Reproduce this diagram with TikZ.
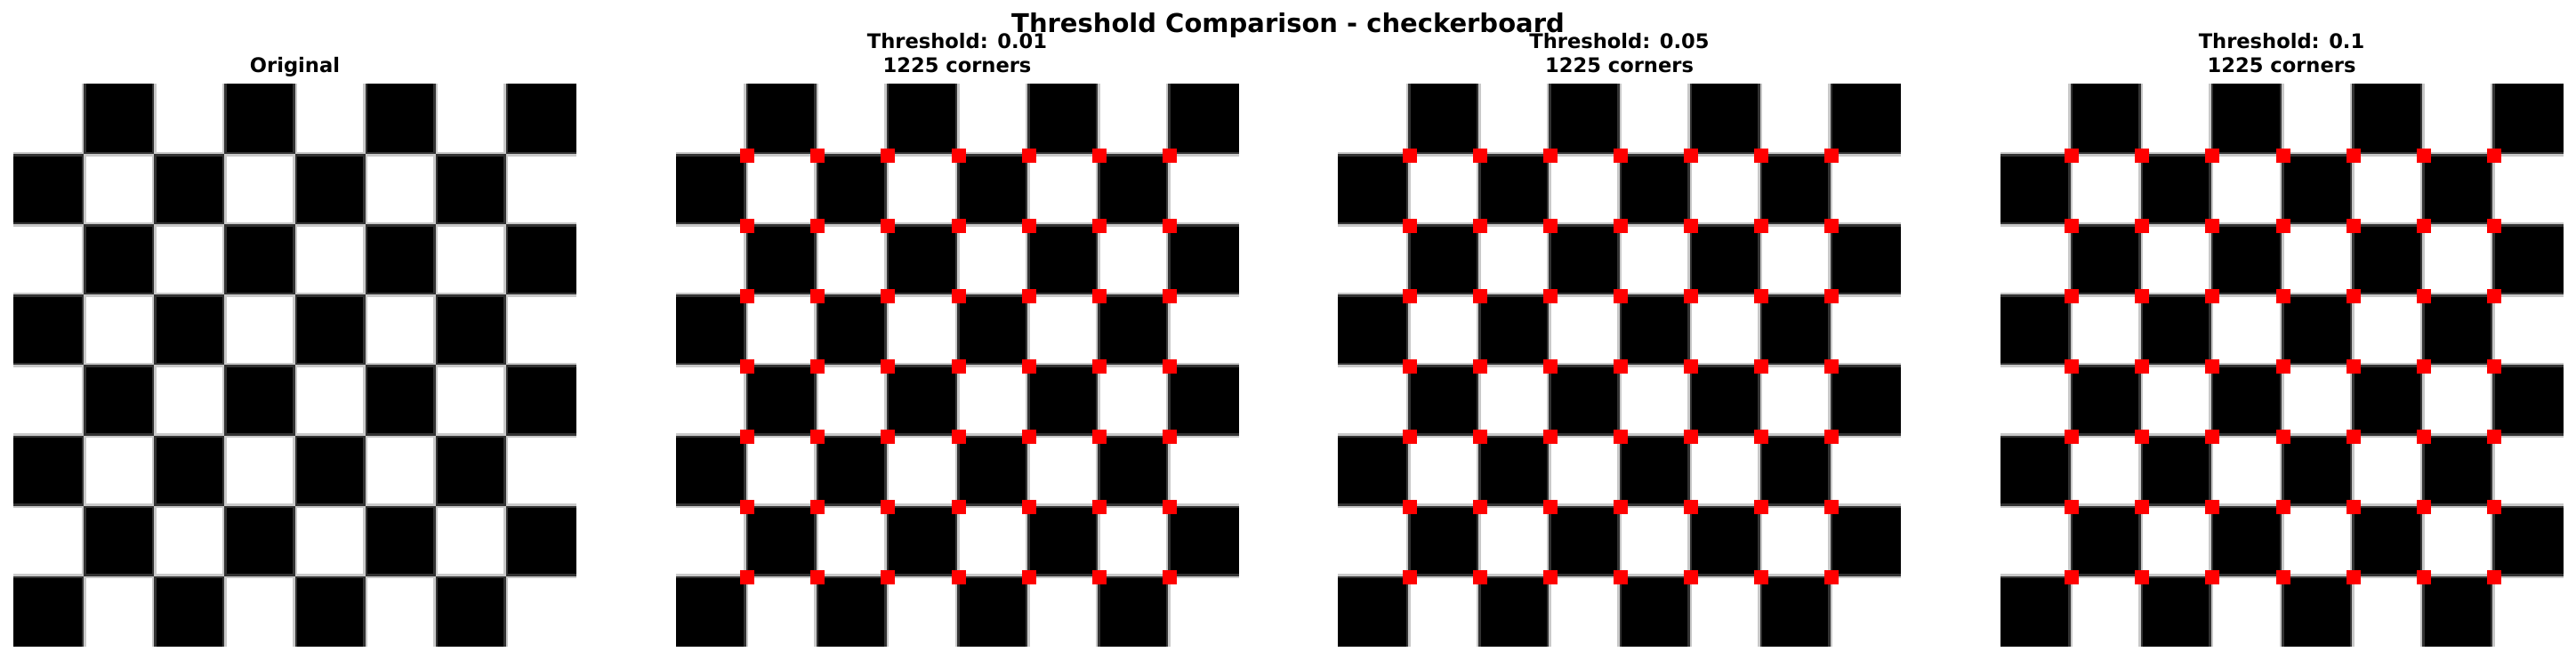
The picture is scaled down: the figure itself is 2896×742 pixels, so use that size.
\documentclass[tikz,border=0pt]{standalone}
\usepackage{fontspec}
\setmainfont{DejaVu Sans}
\definecolor{lightband}{RGB}{200,200,200}
\definecolor{darkband}{RGB}{51,51,51}
\definecolor{markred}{RGB}{255,0,0}
\newcommand\boardpass[3]{%
  \foreach \r in {0,...,7}{\foreach \c in {0,...,7}{%
    \pgfmathtruncatemacro\isb{mod(\r+\c,2)}%
    \ifnum\isb=1
      \pgfmathsetmacro\xa{#1+\c*79.125-(\c>0)*(#3)}%
      \pgfmathsetmacro\xb{#1+(\c+1)*79.125+(\c<7)*(#3)}%
      \pgfmathsetmacro\ya{94+\r*79.125-(\r>0)*(#3)}%
      \pgfmathsetmacro\yb{94+(\r+1)*79.125+(\r<7)*(#3)}%
      \fill[#2] (\xa,\ya) rectangle (\xb,\yb);
    \fi}}}
\newcommand\board[1]{%
  \boardpass{#1}{lightband}{2.5}%
  \boardpass{#1}{darkband}{0}%
  \boardpass{#1}{black}{-2.5}}
\newcommand\corners[1]{%
  \foreach \i in {1,...,7}{\foreach \j in {1,...,7}{%
    \pgfmathsetmacro\mx{#1+\i*79.125+1.5-8}%
    \pgfmathsetmacro\my{94+\j*79.125+1.5-8}%
    \fill[markred] (\mx,\my) rectangle +(16,16);}}}
\tikzset{
  suptitle/.style={font=\fontsize{14.5}{17}\selectfont\bfseries, anchor=base, inner sep=0pt},
  paneltitle/.style={font=\fontsize{11.3}{13.5}\selectfont\bfseries, anchor=base, inner sep=0pt}
}
\begin{document}
\begin{tikzpicture}[x=0.5pt,y=-0.5pt]
\useasboundingbox (0,0) rectangle (2896,742);
\fill[white] (0,0) rectangle (2896,742);
% boards
\board{15}
\board{759.5}
\board{1504}
\board{2248.5}
% corner markers
\corners{759.5}
\corners{1504}
\corners{2248.5}
% titles
\node[suptitle] (sup) at (1448,36.7) {Threshold Comparison - checkerboard};
\node[paneltitle] (t1) at (331.5,82) {Original};
\node[paneltitle] (t2a) at (1076,54.3) {Threshold: 0.01};
\node[paneltitle] (t2b) at (1076,81.7) {1225 corners};
\node[paneltitle] (t3a) at (1820.5,54.3) {Threshold: 0.05};
\node[paneltitle] (t3b) at (1820.5,81.7) {1225 corners};
\node[paneltitle] (t4a) at (2565,54.3) {Threshold: 0.1};
\node[paneltitle] (t4b) at (2565,81.7) {1225 corners};
\end{tikzpicture}
\end{document}
